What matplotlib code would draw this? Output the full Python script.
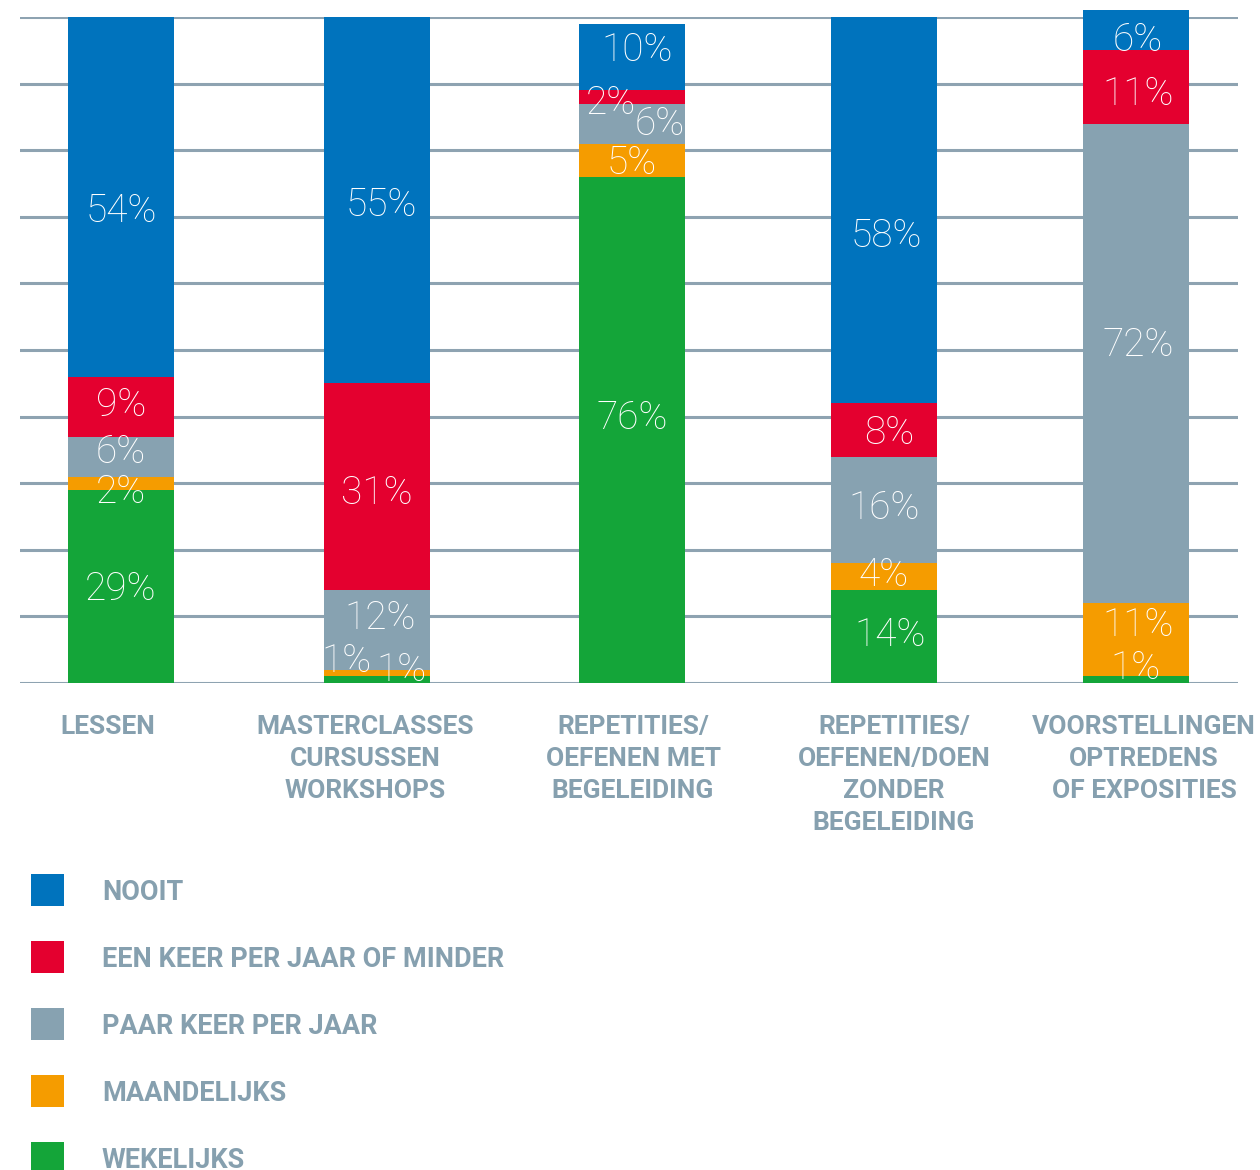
import matplotlib
matplotlib.use("Agg")
import matplotlib.pyplot as plt
import matplotlib.transforms as mtransforms
from matplotlib.patches import Rectangle

# ---------------- data ----------------
categories = [
    ["LESSEN"],
    ["MASTERCLASSES", "CURSUSSEN", "WORKSHOPS"],
    ["REPETITIES/", "OEFENEN MET", "BEGELEIDING"],
    ["REPETITIES/", "OEFENEN/DOEN", "ZONDER", "BEGELEIDING"],
    ["VOORSTELLINGEN", "OPTREDENS", "OF EXPOSITIES"],
]
series_names = ["WEKELIJKS", "MAANDELIJKS", "PAAR KEER PER JAAR",
                "EEN KEER PER JAAR OF MINDER", "NOOIT"]
wekelijks = [29, 1, 76, 14, 1]
maandelijks = [2, 1, 5, 4, 11]
paar_keer = [6, 12, 6, 16, 72]
een_keer = [9, 31, 2, 8, 11]
nooit = [54, 55, 10, 58, 6]
series = [wekelijks, maandelijks, paar_keer, een_keer, nooit]
yticks = [0, 10, 20, 30, 40, 50, 60, 70, 80, 90, 100]

# ---------------- style ----------------
colors = ["#14A539", "#F59C00", "#87A2B1", "#E4002F", "#0073BD"]
grid_color = "#8EA3B1"
text_gray = "#86A0AF"
W, H = 1260, 1170
bar_pos = [0, 1.009, 2.014, 3.007, 4.0]

# label offsets in pixels (dx right, dy down) : (series index, category index)
label_offsets = {
    (4, 0): (0, 11), (3, 0): (0, -4), (2, 0): (0, -7), (1, 0): (0, 6),
    (2, 1): (3, -15), (3, 1): (0, 4), (4, 1): (4, 2),
    (1, 1): (-30, -15), (0, 1): (25, -12),
    (0, 2): (0, -15), (2, 2): (28, -2), (3, 2): (-21, 3), (4, 2): (5, -10),
    (4, 3): (2, 23), (0, 3): (6, -4), (1, 3): (0, -4), (2, 3): (0, -5), (3, 3): (5, 0),
    (0, 4): (0, -14), (1, 4): (2, -18), (2, 4): (2, -21), (3, 4): (2, 4), (4, 4): (2, 7),
}
cat_dx = [-13, -12, 1, 10, 8]

fig = plt.figure(figsize=(W / 100, H / 100), dpi=100)
left_px, right_px, top_px, bottom_px = 20, 1238, 17, 683
ax = fig.add_axes([left_px / W, 1 - bottom_px / H,
                   (right_px - left_px) / W, (bottom_px - top_px) / H])
ax.set_xlim(-0.398, 4.402)
ax.set_ylim(0, 100)
ax.axis("off")

for t in yticks:
    ax.axhline(t, color=grid_color, lw=2.2, zorder=1)

bottoms = [0] * len(bar_pos)
pct_font = dict(family=["Roboto", "DejaVu Sans"], weight="light", size=28, color="white")
half_digit_px = 0.711 * 28 * 100 / 72 / 2
for si, vals in enumerate(series):
    ax.bar(bar_pos, vals, bottom=bottoms, width=0.418, color=colors[si],
           zorder=2, clip_on=False, linewidth=0)
    for ci, v in enumerate(vals):
        cy = bottoms[ci] + v / 2
        dx, dy = label_offsets.get((si, ci), (0, 0))
        tr = mtransforms.offset_copy(ax.transData, fig=fig, x=dx,
                                     y=-(dy + half_digit_px), units="dots")
        ax.text(bar_pos[ci], cy, f"{v}%", transform=tr, ha="center", va="baseline",
                zorder=5, **pct_font)
    bottoms = [b + v for b, v in zip(bottoms, vals)]

# category labels
cat_font = dict(family=["Roboto", "DejaVu Sans"], weight="bold", size=19, color=text_gray)
for ci, lines in enumerate(categories):
    for li, line in enumerate(lines):
        tr = mtransforms.offset_copy(ax.transData, fig=fig, x=cat_dx[ci],
                                     y=-(51 + 32 * li), units="dots")
        ax.text(bar_pos[ci], 0, line, transform=tr, ha="center", va="baseline",
                clip_on=False, **cat_font)

# legend
leg_font = dict(family=["Roboto", "DejaVu Sans"], weight="bold", size=19.5, color=text_gray)
leg_order = [4, 3, 2, 1, 0]
for i, si in enumerate(leg_order):
    cy = 890 + 67 * i
    fig.add_artist(Rectangle((31 / W, 1 - (cy + 16) / H), 33 / W, 32 / H,
                             transform=fig.transFigure, color=colors[si], lw=0))
    fig.text(102 / W, 1 - (cy + 10) / H, series_names[si], ha="left", va="baseline",
             **leg_font)

fig.savefig("out.png", dpi=100)
